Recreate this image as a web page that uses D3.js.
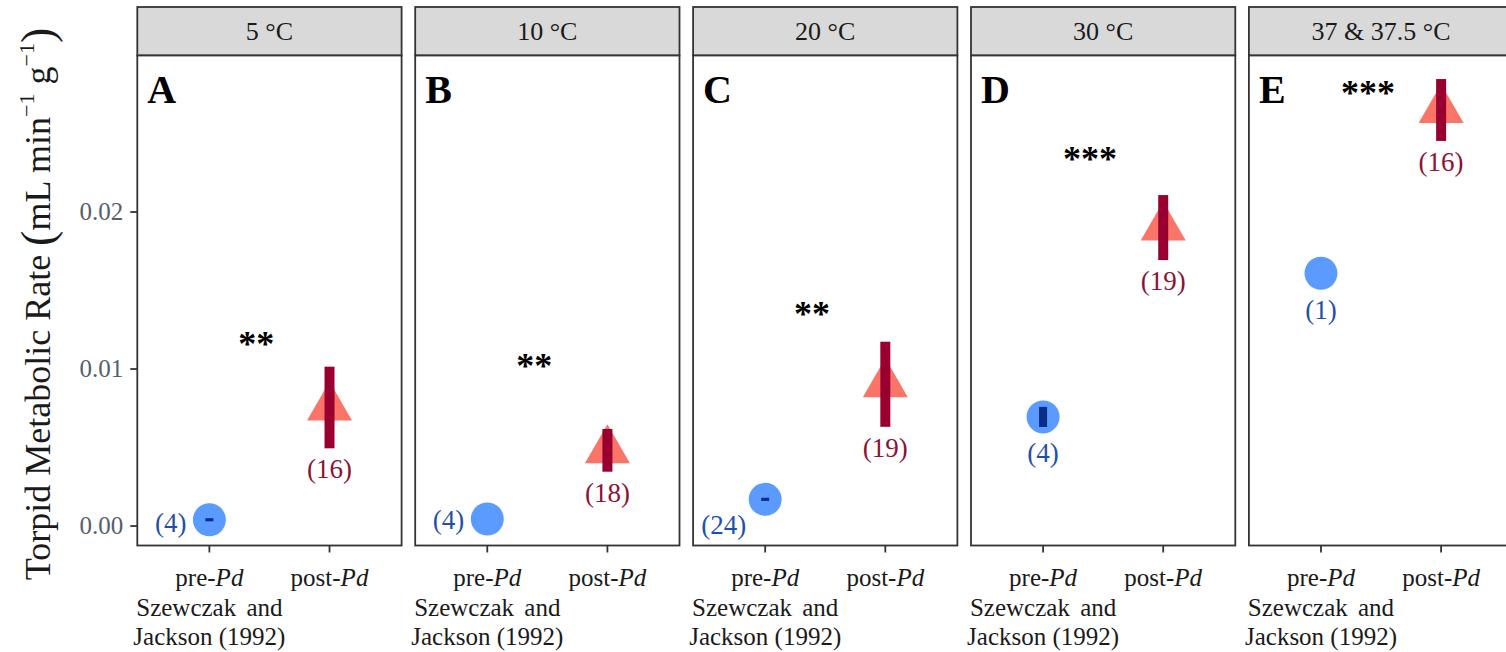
<!DOCTYPE html>
<html><head><meta charset="utf-8">
<script src="https://cdn.jsdelivr.net/npm/d3@7"></script>
<style>body{margin:0;background:#fff}svg{display:block}text{font-family:"Liberation Serif","Times New Roman",serif}</style>
</head><body><svg id="c" width="1506" height="652"></svg>
<script>
// ---- data ----
const panels = ["5 °C", "10 °C", "20 °C", "30 °C", "37 & 37.5 °C"];
const panelLetters = ["A", "B", "C", "D", "E"];
const groups = ["pre", "post"];
const preMean = [0.0004, 0.00045, 0.0017, 0.00695, 0.0161];
const preSE = [0.0001, 0, 0.0001, 0.00064, 0];
const preN = [4, 4, 24, 4, 1];
const postMean = [0.00755, 0.00482, 0.00903, 0.01901, 0.0265];
const postSE = [0.0026, 0.00136, 0.00271, 0.00207, 0.00197];
const postN = [16, 18, 19, 19, 16];
const sigLabels = ["**", "**", "**", "***", "***"];
const sigY = [0.0118, 0.0104, 0.0137, 0.0236, 0.0278];
const yTicks = [0, 0.01, 0.02];
const yTickLabels = ["0.00", "0.01", "0.02"];

// ---- layout ----
const svg = d3.select("#c");
const left0 = 137.3, step = 277.9, pw = 264.3;
const headTop = 7, headBot = 55.5, plotBot = 545.5;
const y = d3.scaleLinear().domain([-0.00124, 0.02997]).range([plotBot, headBot]);
const x = d3.scalePoint().domain(groups).range([0, pw]).padding(0.6);

// pre label placement (px offsets)
const preLab = [
  {dx: -23, dy: 12, anchor: "end"},
  {dx: -23, dy: 10, anchor: "end"},
  {dx: -19, dy: 35, anchor: "end"},
  {dx: 0, dy: 45, anchor: "middle"},
  {dx: 0, dy: 46, anchor: "middle"}
];

const triPath = (cx, cy) => {
  const s = 45, h = 39;
  return `M${cx},${cy - h * 2 / 3}L${cx + s / 2},${cy + h / 3}L${cx - s / 2},${cy + h / 3}Z`;
};

panels.forEach((p, i) => {
  const g = svg.append("g").attr("transform", `translate(${left0 + i * step},0)`);
  // header
  g.append("rect").attr("x", 0).attr("y", headTop).attr("width", pw).attr("height", headBot - headTop)
    .attr("fill", "#d9d9d9").attr("stroke", "#333").attr("stroke-width", 1.8);
  g.append("text").attr("x", pw / 2).attr("y", 40).attr("text-anchor", "middle")
    .attr("font-size", 26).attr("fill", "#1a1a1a").text(p);
  // panel
  g.append("rect").attr("x", 0).attr("y", headBot).attr("width", pw).attr("height", plotBot - headBot)
    .attr("fill", "#fff").attr("stroke", "#333").attr("stroke-width", 1.8);
  // letter
  g.append("text").attr("x", 10).attr("y", 103).attr("font-size", 40).attr("font-weight", "bold")
    .attr("fill", "#000").text(panelLetters[i]);
  // sig stars
  g.append("text").attr("x", 119).attr("y", y(sigY[i]) + 15).attr("text-anchor", "middle")
    .attr("font-size", 36).attr("font-weight", "bold").attr("font-family", "DejaVu Sans")
    .attr("fill", "#000").text(sigLabels[i]);
  // x ticks
  groups.forEach(gr => {
    g.append("line").attr("x1", x(gr)).attr("x2", x(gr)).attr("y1", plotBot).attr("y2", plotBot + 7)
      .attr("stroke", "#333").attr("stroke-width", 1.8);
  });
  // x labels
  const px = x("pre"), qx = x("post");
  const fs = 25;
  const t1 = g.append("text").attr("x", px).attr("y", 586).attr("text-anchor", "middle").attr("font-size", fs).attr("fill", "#1a1a1a");
  t1.append("tspan").text("pre-");
  t1.append("tspan").attr("font-style", "italic").text("Pd");
  g.append("text").attr("x", px).attr("y", 616).attr("text-anchor", "middle").attr("font-size", fs).attr("fill", "#1a1a1a").attr("word-spacing", 4).text("Szewczak and");
  g.append("text").attr("x", px).attr("y", 645).attr("text-anchor", "middle").attr("font-size", fs).attr("fill", "#1a1a1a").text("Jackson (1992)");
  const t2 = g.append("text").attr("x", qx).attr("y", 586).attr("text-anchor", "middle").attr("font-size", fs).attr("fill", "#1a1a1a");
  t2.append("tspan").text("post-");
  t2.append("tspan").attr("font-style", "italic").text("Pd");

  // pre point
  const cy = y(preMean[i]);
  g.append("circle").attr("cx", px).attr("cy", cy).attr("r", 16.5).attr("fill", "#5b9bff");
  if (preSE[i] > 0) {
    g.append("rect").attr("x", px - 4).attr("width", 8)
      .attr("y", y(preMean[i] + preSE[i])).attr("height", y(preMean[i] - preSE[i]) - y(preMean[i] + preSE[i]))
      .attr("fill", "#0a2d8c");
  }
  g.append("text").attr("x", px + preLab[i].dx).attr("y", cy + preLab[i].dy).attr("text-anchor", preLab[i].anchor)
    .attr("font-size", 27).attr("fill", "#1f4fae").text(`(${preN[i]})`);

  // post point
  const qy = y(postMean[i]);
  g.append("path").attr("d", triPath(qx, qy)).attr("fill", "#fb7468");
  const top = y(postMean[i] + postSE[i]), bot = y(postMean[i] - postSE[i]);
  g.append("rect").attr("x", qx - 5).attr("width", 10).attr("y", top).attr("height", bot - top).attr("fill", "#990030");
  g.append("text").attr("x", qx).attr("y", bot + 30).attr("text-anchor", "middle")
    .attr("font-size", 27).attr("fill", "#8b1238").text(`(${postN[i]})`);
});

// y axis
const ya = svg.append("g");
yTicks.forEach((t, k) => {
  ya.append("line").attr("x1", left0 - 7).attr("x2", left0).attr("y1", y(t)).attr("y2", y(t)).attr("stroke", "#333").attr("stroke-width", 1.8);
  ya.append("text").attr("x", left0 - 14).attr("y", y(t) + 8).attr("text-anchor", "end").attr("font-size", 25)
    .attr("fill", "#55606e").text(yTickLabels[k]);
});
// y title
const yt = svg.append("text").attr("transform", "translate(50,304) rotate(-90)").attr("text-anchor", "middle")
  .attr("font-size", 36).attr("fill", "#1a1a1a");
yt.append("tspan").text("Torpid Metabolic Rate ");
yt.append("tspan").attr("font-size", 46).attr("dy", 3).text("(");
yt.append("tspan").attr("dy", -3).text("mL min");
yt.append("tspan").attr("font-size", 22).attr("dy", -16).text("−1");
yt.append("tspan").attr("dy", 16).text(" g");
yt.append("tspan").attr("font-size", 22).attr("dy", -16).text("−1");
yt.append("tspan").attr("font-size", 46).attr("dy", 19).text(")");
</script></body></html>
